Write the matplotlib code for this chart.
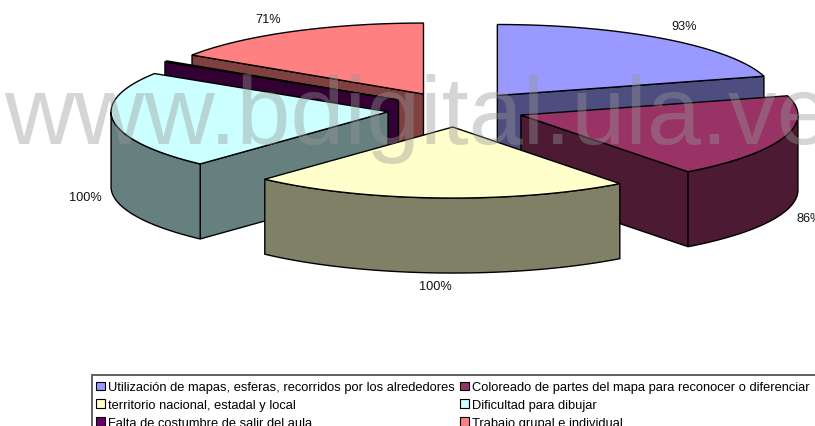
import numpy as np
import matplotlib
matplotlib.use("Agg")
import matplotlib.pyplot as plt
from matplotlib.patches import Polygon, Patch, Rectangle

plt.rcParams['font.family'] = ['Liberation Sans', 'DejaVu Sans']

categories = ["Utilización de mapas, esferas, recorridos por los alrededores",
              "Coloreado de partes del mapa para reconocer o diferenciar",
              "territorio nacional, estadal y local",
              "Dificultad para dibujar",
              "Falta de costumbre de salir del aula",
              "Trabajo grupal e individual"]
values = [93, 86, 100, 100, 1, 71]
top_colors = ["#9999FF", "#993366", "#FFFFCC", "#CCFFFF", "#660066", "#FF8080"]
side_colors = ["#4D4D80", "#4D1A33", "#808066", "#668080", "#330033", "#804040"]
draw_order = [5, 0, 4, 3, 1, 2]
label_idx = [0, 1, 2, 3, 5]
label_pos = {0: (684, 27), 1: (809, 219), 2: (435, 287), 3: (85, 198), 5: (268, 20)}

W, H = 815, 427
cx, cy, a, b, depth, explode = 456, 110.5, 277, 71, 75, 68.5

fig = plt.figure(figsize=(W / 100, H / 100), dpi=100)
ax = fig.add_axes([0, 0, 1, 1])
ax.set_xlim(0, W)
ax.set_ylim(H, 0)
ax.axis('off')

vals = np.array(values, float)
sweeps = vals / vals.sum() * 360
starts = 90 - np.concatenate(([0], np.cumsum(sweeps)[:-1]))
ends = starts - sweeps


def proj(ox, oy, deg):
    t = np.radians(deg)
    return ox + a * np.cos(t), oy - b * np.sin(t)


def radial_wall(ox, oy, deg, col, z):
    x, y = proj(ox, oy, deg)
    ax.add_patch(Polygon([(ox, oy), (x, y), (x, y + depth), (ox, oy + depth)], closed=True,
                         facecolor=col, edgecolor='black', lw=1, zorder=z))


for z, i in enumerate(draw_order):
    s, e = starts[i], ends[i]
    mid = np.radians((s + e) / 2)
    ox = cx + explode * np.cos(mid)
    oy = cy - explode * (b / a) * np.sin(mid)
    z0 = 2 + z * 3
    if np.cos(np.radians(s)) < -1e-6:
        radial_wall(ox, oy, s, side_colors[i], z0)
    if np.cos(np.radians(e)) > 1e-6:
        radial_wall(ox, oy, e, side_colors[i], z0)
    t = np.linspace(e, s, 120)
    t = t[np.sin(np.radians(t)) <= 0]
    if t.size > 1:
        xs, ys = proj(ox, oy, t)
        pts = np.column_stack([np.r_[xs, xs[::-1]], np.r_[ys, ys[::-1] + depth]])
        ax.add_patch(Polygon(pts, closed=True, facecolor=side_colors[i], edgecolor='black',
                             lw=1, zorder=z0 + 1))
    t = np.linspace(s, e, 120)
    xs, ys = proj(ox, oy, t)
    pts = np.column_stack([np.r_[ox, xs], np.r_[oy, ys]])
    ax.add_patch(Polygon(pts, closed=True, facecolor=top_colors[i], edgecolor='black',
                         lw=1, zorder=z0 + 2))

for i in label_idx:
    ax.text(*label_pos[i], f"{values[i]}%", fontsize=9.2, ha='center', va='center', color='#111111', zorder=40)

ax.text(4, 144, "www.bdigital.ula.ve", fontsize=70, color='#969696', alpha=0.4,
        ha='left', va='baseline', zorder=50, clip_on=True)

ax.add_patch(Rectangle((92, 376), 760, 70, facecolor='white', edgecolor='#555555', lw=1.3, zorder=29))
handles = [Patch(facecolor=top_colors[i], edgecolor='black', lw=0.8) for i in (0, 2, 4, 1, 3, 5)]
labels = [categories[i] for i in (0, 2, 4, 1, 3, 5)]
leg = ax.legend(handles, labels, ncols=2, loc='upper left', bbox_to_anchor=(92, 378),
                bbox_transform=ax.transData, fontsize=9.25, frameon=False, borderaxespad=0,
                handlelength=0.65, handleheight=0.7, handletextpad=0.25, columnspacing=0.42,
                labelspacing=0.45, borderpad=0.35)
leg.set_zorder(30)

fig.savefig("out.png", dpi=100)
